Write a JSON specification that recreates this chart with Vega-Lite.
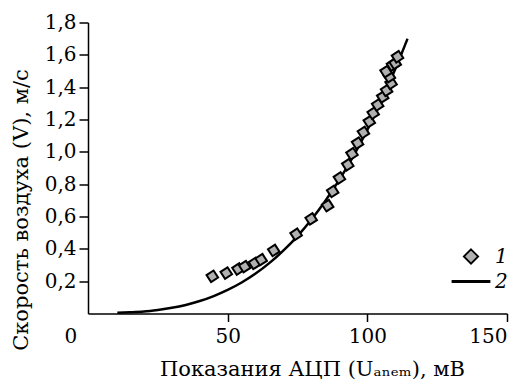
{
  "$schema": "https://vega.github.io/schema/vega-lite/v6.json",
  "autosize": {"type": "none"},
  "padding": {"left": 88, "top": 22.5, "right": 18, "bottom": 67.5},
  "width": 419,
  "height": 291,
  "background": "white",
  "config": {
    "view": {"stroke": null},
    "font": "DejaVu Serif",
    "axis": {
      "grid": false,
      "domainColor": "black",
      "domainWidth": 1.5,
      "tickColor": "black",
      "tickWidth": 1.5,
      "labelFont": "DejaVu Serif",
      "labelFontSize": 20,
      "labelColor": "black",
      "titleFont": "DejaVu Serif",
      "titleFontSize": 21,
      "titleFontWeight": "normal",
      "titleColor": "black"
    },
    "legend": {
      "labelFont": "DejaVu Serif",
      "labelFontSize": 20,
      "labelFontStyle": "italic",
      "labelColor": "black"
    }
  },
  "datasets": {
    "points": [
      {"u": 44.5, "v": 0.23, "s": "1"},
      {"u": 49.5, "v": 0.25, "s": "1"},
      {"u": 53.7, "v": 0.275, "s": "1"},
      {"u": 56.1, "v": 0.29, "s": "1"},
      {"u": 59.6, "v": 0.31, "s": "1"},
      {"u": 62.0, "v": 0.333, "s": "1"},
      {"u": 66.5, "v": 0.39, "s": "1"},
      {"u": 74.5, "v": 0.49, "s": "1"},
      {"u": 79.9, "v": 0.585, "s": "1"},
      {"u": 85.8, "v": 0.667, "s": "1"},
      {"u": 87.6, "v": 0.755, "s": "1"},
      {"u": 90.0, "v": 0.838, "s": "1"},
      {"u": 93.0, "v": 0.92, "s": "1"},
      {"u": 94.5, "v": 0.988, "s": "1"},
      {"u": 96.5, "v": 1.054, "s": "1"},
      {"u": 98.6, "v": 1.12, "s": "1"},
      {"u": 100.7, "v": 1.187, "s": "1"},
      {"u": 102.1, "v": 1.239, "s": "1"},
      {"u": 103.7, "v": 1.29, "s": "1"},
      {"u": 105.5, "v": 1.34, "s": "1"},
      {"u": 106.9, "v": 1.38, "s": "1"},
      {"u": 108.5, "v": 1.424, "s": "1"},
      {"u": 107.9, "v": 1.465, "s": "1"},
      {"u": 106.7, "v": 1.496, "s": "1"},
      {"u": 109.0, "v": 1.537, "s": "1"},
      {"u": 110.0, "v": 1.547, "s": "1"},
      {"u": 110.8, "v": 1.588, "s": "1"}
    ],
    "curve": [
      {"u": 10.5, "v": 0.004},
      {"u": 15, "v": 0.007},
      {"u": 20, "v": 0.012},
      {"u": 25, "v": 0.022},
      {"u": 30, "v": 0.035},
      {"u": 35, "v": 0.053},
      {"u": 40, "v": 0.077},
      {"u": 45, "v": 0.108},
      {"u": 50, "v": 0.146},
      {"u": 55, "v": 0.192},
      {"u": 60, "v": 0.247},
      {"u": 65, "v": 0.313},
      {"u": 70, "v": 0.39},
      {"u": 75, "v": 0.479},
      {"u": 80, "v": 0.582},
      {"u": 85, "v": 0.698},
      {"u": 90, "v": 0.828},
      {"u": 95, "v": 0.974},
      {"u": 100, "v": 1.136},
      {"u": 105, "v": 1.315},
      {"u": 110, "v": 1.512},
      {"u": 114.4, "v": 1.7}
    ]
  },
  "encoding": {
    "x": {
      "field": "u",
      "type": "quantitative",
      "scale": {"domain": [0, 150], "nice": false, "zero": false},
      "axis": {
        "values": [0, 50, 100, 150],
        "title": "Показания АЦП (Uₐₙₑₘ), мВ",
        "tickSize": 8,
        "labelPadding": 5,
        "labelOffset": {"condition": {"test": "datum.value === 0", "value": -24}, "value": 0},
        "tickOpacity": {"condition": {"test": "datum.value === 0", "value": 0}, "value": 1},
        "titleX": 224,
        "titleY": 62,
        "titleBaseline": "alphabetic",
        "titleAnchor": "middle",
        "titleAlign": "center"
      }
    },
    "y": {
      "field": "v",
      "type": "quantitative",
      "scale": {"domain": [0, 1.8], "nice": false},
      "axis": {
        "values": [0.2, 0.4, 0.6, 0.8, 1.0, 1.2, 1.4, 1.6, 1.8],
        "labelExpr": "replace(format(datum.value, '.1f'), '.', ',')",
        "title": "Скорость воздуха (V), м/с",
        "tickSize": 9,
        "labelPadding": 3,
        "titleX": -67,
        "titleY": 187,
        "titleBaseline": "middle",
        "titleAlign": "center",
        "titleAngle": -90
      }
    }
  },
  "layer": [
    {
      "data": {"name": "curve"},
      "mark": {"type": "line", "color": "black", "strokeWidth": 2.5, "interpolate": "monotone"},
      "encoding": {}
    },
    {
      "data": {"name": "points"},
      "mark": {"type": "point", "filled": true, "strokeWidth": 2, "opacity": 1, "size": 270, "angle": 12},
      "encoding": {
        "fill": {
          "field": "s",
          "type": "nominal",
          "scale": {"domain": ["1", "2"], "range": ["#b0b0b0", "black"]},
          "legend": null
        },
        "stroke": {
          "field": "s",
          "type": "nominal",
          "scale": {"domain": ["1", "2"], "range": ["black", "black"]},
          "legend": null
        },
        "shape": {
          "field": "s",
          "type": "nominal",
          "scale": {"domain": ["1", "2"], "range": ["M0,-0.72L0.72,0L0,0.72L-0.72,0Z", "M-1.85,-0.05H1.85V0.05H-1.85Z"]},
          "legend": {
            "title": null,
            "orient": "none",
            "legendX": 372,
            "legendY": 223,
            "symbolSize": 400,
            "symbolFillColor": "#b0b0b0",
            "symbolStrokeColor": "black",
            "symbolStrokeWidth": 1.8,
            "symbolOpacity": 1,
            "labelOffset": 13,
            "rowPadding": 3
          }
        }
      }
    }
  ]
}
